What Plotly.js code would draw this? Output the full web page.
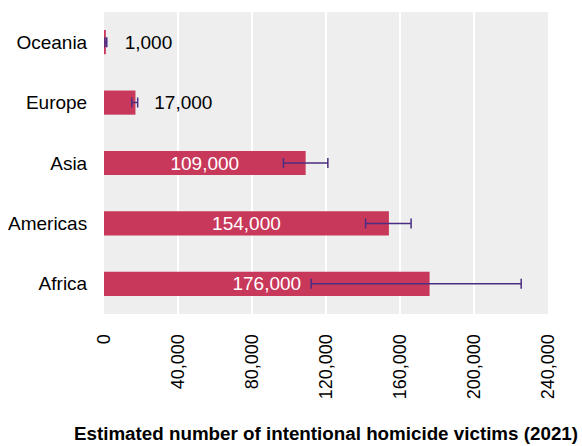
<!DOCTYPE html>
<html>
<head>
<meta charset="utf-8">
<script src="https://cdn.plot.ly/plotly-3.0.1.min.js"></script>
<style>html,body{margin:0;padding:0;background:#fff;}#chart{width:582px;height:446px;}</style>
</head>
<body>
<div id="chart"></div>
<script>
// Data (top-to-bottom order in picture: Oceania, Europe, Asia, Americas, Africa)
const regions = ["Africa", "Americas", "Asia", "Europe", "Oceania"];
const victims = [176000, 154000, 109000, 17000, 1000];
const errorPlus = [49500, 12000, 12000, 1200, 500];
const errorMinus = [64000, 12600, 12000, 2000, 500];
const labelInside = [true, true, true, false, false];
const tickValues = [0, 40000, 80000, 120000, 160000, 200000, 240000];
const tickLabels = ["0", "40,000", "80,000", "120,000", "160,000", "200,000", "240,000"];
const axisTitle = "Estimated number of intentional homicide victims (2021)";

const fmt = v => v.toLocaleString("en-US");
const NB = "\u00a0";

const trace = {
  type: "bar",
  orientation: "h",
  y: regions,
  x: victims,
  marker: {color: "#C8385A"},
  text: victims.map((v, i) => labelInside[i] ? fmt(v) : NB.repeat(3) + fmt(v)),
  textposition: labelInside.map(b => b ? "inside" : "outside"),
  insidetextanchor: "middle",
  constraintext: "none",
  cliponaxis: false,
  textfont: {family: "Liberation Sans, Arial, sans-serif", size: 19},
  insidetextfont: {color: "#ffffff", family: "Liberation Sans, Arial, sans-serif", size: 19},
  outsidetextfont: {color: "#000000", family: "Liberation Sans, Arial, sans-serif", size: 19},
  error_x: {
    type: "data",
    symmetric: false,
    array: errorPlus,
    arrayminus: errorMinus,
    color: "#4B2E83",
    thickness: 1.5,
    width: 5
  },
  hoverinfo: "none"
};

const layout = {
  width: 582,
  height: 446,
  margin: {l: 104, r: 34, t: 12, b: 132, pad: 0},
  paper_bgcolor: "#ffffff",
  plot_bgcolor: "#EDEEED",
  bargap: 0.6,
  showlegend: false,
  font: {family: "Liberation Sans, Arial, sans-serif", color: "#000000"},
  xaxis: {
    range: [0, 240000],
    tickmode: "array",
    tickvals: tickValues,
    ticktext: tickLabels,
    tickangle: -90,
    tickfont: {size: 18, color: "#000000"},
    ticks: "outside",
    ticklen: 12,
    tickcolor: "rgba(0,0,0,0)",
    showgrid: true,
    gridcolor: "#ffffff",
    gridwidth: 1.5,
    zeroline: false,
    showline: false,
    fixedrange: true,
    title: {
      text: "<b>" + axisTitle + "</b>",
      font: {size: 18.8, color: "#000000"},
      standoff: 28
    }
  },
  yaxis: {
    tickfont: {size: 19, color: "#000000"},
    ticks: "outside",
    ticklen: 12,
    tickcolor: "rgba(0,0,0,0)",
    showgrid: false,
    zeroline: false,
    showline: false,
    fixedrange: true
  }
};

Plotly.newPlot("chart", [trace], layout, {displayModeBar: false, staticPlot: true});
</script>
</body>
</html>
